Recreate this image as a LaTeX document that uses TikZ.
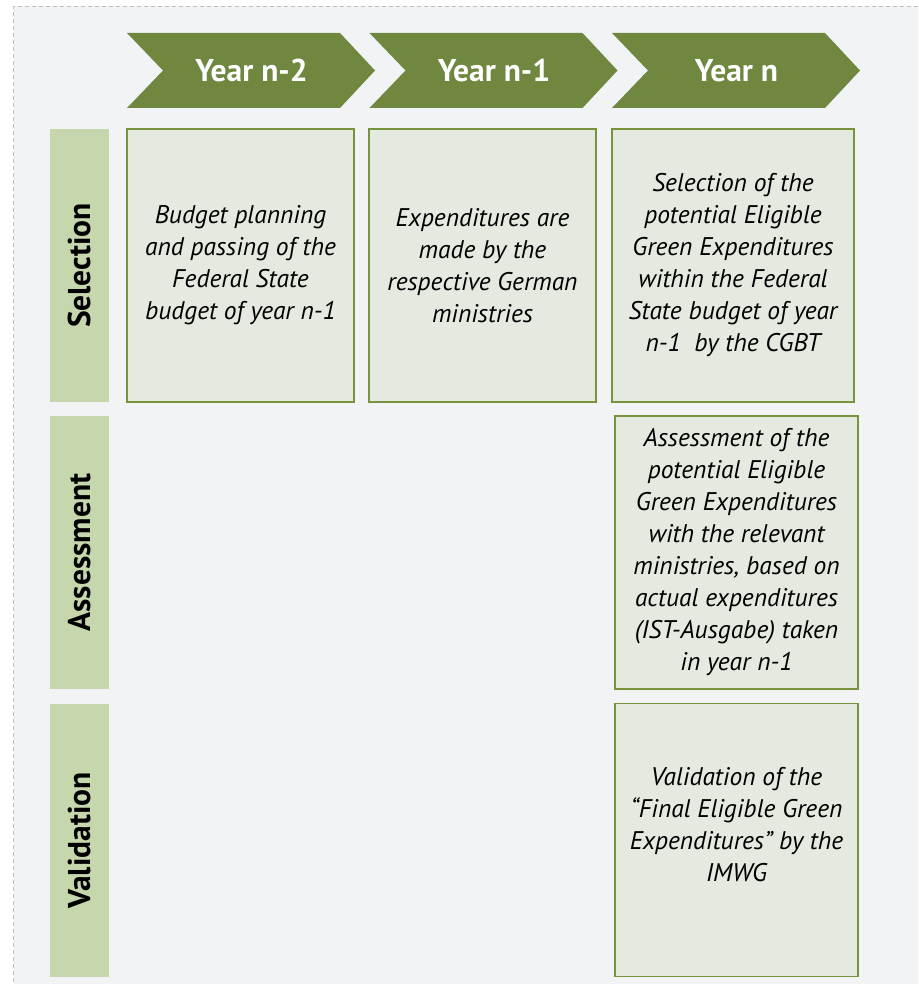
\documentclass[tikz,border=0pt]{standalone}
\usepackage{fontspec}
\setmainfont{PT Sans}
\definecolor{chevgreen}{HTML}{6F873F}
\definecolor{labelgreen}{HTML}{C6D7AD}
\definecolor{boxfill}{HTML}{E4EADF}
\definecolor{boxline}{HTML}{77933C}
\definecolor{panelgray}{HTML}{F2F3F5}
\tikzset{
    yearlabel/.style={text=white, font=\bfseries\fontsize{31.5}{34}\selectfont},
    phase/.style={fill=labelgreen, rotate=90, minimum width=273pt, minimum height=59pt, inner sep=0pt, font=\bfseries\fontsize{31.5}{34}\selectfont},
    task/.style={draw=boxline, line width=1.5pt, fill=boxfill, minimum height=273pt, inner sep=0pt, align=center, font=\itshape\fontsize{25.5}{32}\selectfont}
}

\begin{document}
\begin{tikzpicture}[x=1pt, y=-1pt]
    \useasboundingbox (0,0) rectangle (918,984);
    % Panel with dashed frame
    \fill[panelgray] (13.5,6.5) rectangle (918,984);
    \draw[black!25, dash pattern=on 4pt off 3pt] (918,6.5) -- (13.5,6.5) -- (13.5,984);
    % Year chevrons
    \foreach \yr [count=\i from 0] in {n-2, n-1, n} {
        \fill[chevgreen] ({127+242.5*\i},33) -- ++(213,0) -- ++(35,37.5) -- ++(-35,37.5) -- ++(-213,0) -- ++(36,-37.5) -- cycle;
        \node[yearlabel] (year\i) at ({251.5+242.5*\i},70.5) {Year \yr};
    }
    % Phase labels
    \node[phase] (selection) at (79.5,265.5) {Selection};
    \node[phase] (assessment) at (79.5,552.5) {Assessment};
    \node[phase] (validation) at (79.5,840.5) {Validation};
    % Tasks
    \node[task, minimum width=227pt] (budget) at (240.5,265.5)
        {Budget planning\\and passing of the\\Federal State\\budget of year n-1};
    \node[task, minimum width=227pt] (spending) at (482.5,265.5)
        {Expenditures are\\made by the\\respective German\\ministries};
    \node[task, minimum width=242pt] (select) at (733,265.5)
        {Selection of the\\potential Eligible\\Green Expenditures\\within the Federal\\State budget of year\\n-1\ \ by the CGBT};
    \node[task, minimum width=243pt] (assess) at (736.5,552.5)
        {Assessment of the\\potential Eligible\\Green Expenditures\\with the relevant\\ministries, based on\\actual expenditures\\(IST-Ausgabe) taken\\in year n-1};
    \node[task, minimum width=243pt] (validate) at (736.5,840)
        {Validation of the\\“Final Eligible Green\\Expenditures” by the\\IMWG\\\mbox{}};
\end{tikzpicture}
\end{document}
